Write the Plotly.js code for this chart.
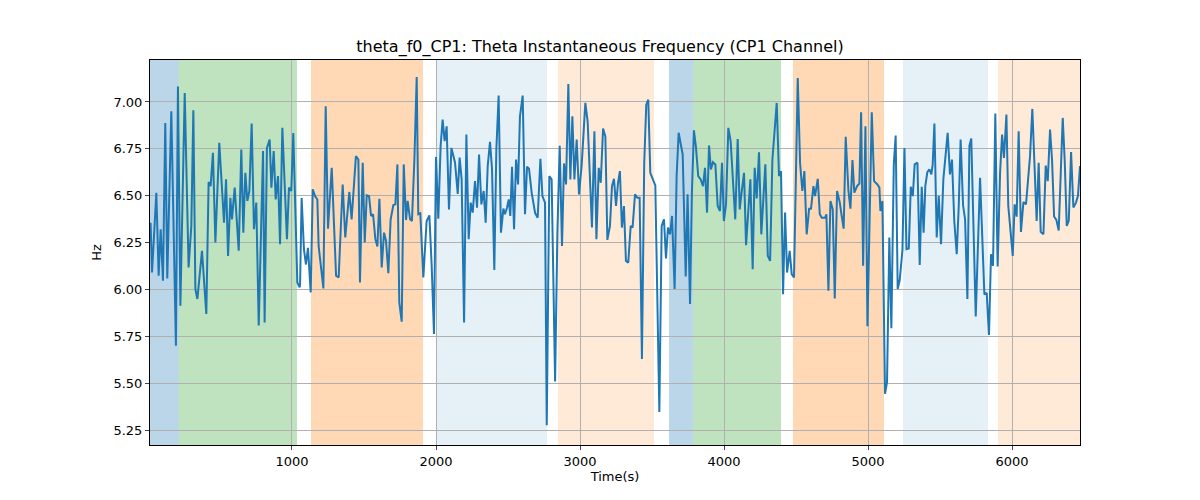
<!DOCTYPE html>
<html><head><meta charset="utf-8">
<script src="https://cdn.plot.ly/plotly-3.0.1.min.js"></script>
<style>body{margin:0}#c{width:1200px;height:500px}</style>
</head><body><div id="c"></div>
<script>
const timeS = [18,28,58,74,88,104,120,134,162,181,194,208,225,255,282,301,315,329,343,375,405,421,435,451,468,495,528,542,556,572,583,602,630,648,662,676,690,704,720,736,752,769,799,810,826,845,857,873,887,903,917,933,965,979,995,1009,1037,1053,
1056,1067,1083,1097,1111,1130,1144,1160,1176,1185,1218,1234,1250,1276,1306,1324,1352,1370,1398,1414,1444,1461,1472,1491,1505,1519,1535,1549,1563,1579,1593,1607,1623,1639,1653,1669,1685,1704,1718,1732,1745,1762,1776,1792,1803,1820,1833,1850,1866,1877,1891,1912,1935,1954,1970,1986,2000,2016,2032,2046,2060,2074,2090,2107,2125,
2132,2151,2164,2178,2195,2211,2227,2241,2255,2271,2285,2299,2315,2331,2345,2359,2375,2389,2405,2419,2435,2451,2468,2479,2493,2505,2516,2528,2542,2556,2570,2583,2602,2618,2632,2646,2664,2688,2706,2725,2739,2757,2769,2787,2803,2827,2843,2859,2875,2889,2903,2919,2933,2947,2961,2977,2993,3012,3037,3053,3083,3100,3114,3130,3144,3160,3176,3190,
3208,3222,3236,3250,3264,3277,3291,3305,3319,3335,3352,3365,3382,3398,3414,3430,3446,3460,3474,3488,3523,3551,3567,3583,3597,3611,3625,3639,3657,3671,3685,3713,3734,3747,3764,3777,3791,3805,3821,3838,3854,3868,3882,3896,3909,3923,3940,3956,3972,3986,3999,4014,4030,4046,4078,4095,4109,4122,4139,4153,4166,4183,4199,4213,4227,4243,4259,4287,
4304,4320,4336,4366,4382,4396,4410,4424,4438,4456,4470,4486,4512,4528,4544,4558,4574,4591,4604,4621,4632,4651,4665,4679,4702,4711,4725,4739,4755,4769,4785,4804,4817,4831,4845,4864,4878,4892,4905,4924,4940,4952,4966,4982,4996,5026,5042,5065,5079,5086,5100,5118,5132,5148,5162,5179,5192,5206,5220,5239,5253,5267,5283,5297,5311,5324,5343,5359,
5373,5386,5398,5412,5426,5440,5449,5461,5477,5491,5507,5523,5553,5569,5583,5599,5616,5630,5643,5660,5674,5690,5704,5717,5748,5778,5808,5824,5840,5854,5868,5884,5900,5917,5931,5944,5961,5974,6005,6018,6032,6046,6062,6079,6097,6125,6141,6171,6185,6199,6218,6234,6248,6264,6278,6292,6308,6324,6352,6366,6380,6394,6410,6426,6444,6458,6472];
const freqHz = [6.356,6.090,6.516,6.073,6.321,6.046,6.888,6.059,6.950,6.232,5.700,7.083,5.913,7.048,6.117,6.339,6.956,6.002,5.949,6.206,5.869,6.573,6.551,6.729,6.250,6.782,6.356,6.587,6.179,6.489,6.374,6.543,6.206,6.746,6.303,6.622,6.472,6.525,6.885,6.321,6.463,5.807,6.738,5.824,6.755,6.800,6.543,6.738,6.480,6.605,6.241,6.862,6.268,6.543,6.525,6.835,6.037,6.011,
6.025,6.488,6.213,6.133,6.222,5.984,6.534,6.498,6.480,6.232,6.005,6.977,6.324,6.649,6.073,6.064,6.560,6.277,6.520,6.374,6.711,6.693,6.037,6.676,6.250,6.502,6.498,6.392,6.401,6.268,6.229,6.484,6.117,6.303,6.259,6.087,6.374,6.450,6.454,6.667,5.931,5.828,6.667,6.370,6.472,6.374,6.365,6.693,7.133,6.401,6.406,6.064,6.365,6.395,6.126,5.762,6.707,6.377,6.764,6.906,6.791,6.870,6.427,6.755,6.702,
6.677,6.509,6.704,6.589,5.824,6.826,6.268,6.463,6.410,6.578,6.436,6.720,6.454,6.525,6.356,6.658,6.787,6.642,6.104,6.746,7.034,6.303,6.431,6.401,6.436,6.480,6.392,6.654,6.321,6.693,6.560,6.924,7.034,6.401,6.654,6.644,6.518,6.408,6.382,6.697,6.498,6.463,5.275,6.604,6.587,5.509,6.303,6.767,6.232,6.672,6.560,7.096,6.587,6.924,6.587,6.800,6.507,6.667,6.995,6.897,6.330,6.844,6.268,6.649,6.569,6.858,6.817,6.264,
6.339,6.551,6.590,6.445,6.569,6.631,6.330,6.445,6.152,6.143,6.339,6.330,6.507,6.489,6.489,5.629,6.675,6.986,7.012,6.622,6.555,5.346,6.339,6.374,6.165,6.330,6.294,6.392,6.002,6.606,6.836,6.720,6.069,6.507,5.922,6.516,6.849,6.760,6.604,6.587,6.551,6.649,6.410,6.768,6.640,6.679,6.667,6.445,6.418,6.676,6.365,6.454,6.862,6.791,6.374,6.803,6.427,6.516,6.622,6.236,6.374,6.587,6.108,6.649,6.485,6.732,6.294,6.667,
6.179,6.152,6.693,6.995,6.605,6.631,5.975,6.410,6.090,6.206,6.082,6.064,7.128,6.676,6.525,6.631,6.294,6.431,6.431,6.551,6.498,6.590,6.401,6.383,6.383,6.401,5.993,6.472,6.427,5.952,6.525,6.463,6.392,6.324,6.814,6.525,6.431,6.690,6.516,6.551,6.565,6.945,6.126,6.870,5.803,6.945,6.578,6.560,6.543,6.418,6.472,5.443,5.505,6.277,5.793,6.667,6.821,6.002,6.050,6.210,6.755,6.215,6.218,6.548,6.498,6.667,6.676,6.130,
6.548,6.303,6.552,6.626,6.640,6.614,6.667,6.885,6.277,6.499,6.241,6.587,6.835,6.614,6.693,6.365,6.188,6.445,6.800,6.449,6.374,5.949,6.766,6.805,5.856,6.596,5.973,5.982,5.757,6.188,6.126,6.938,6.122,6.622,6.826,6.702,6.933,6.445,6.179,6.454,6.388,6.844,6.307,6.466,6.454,6.711,6.963,6.365,6.676,6.307,6.294,6.661,6.578,6.853,6.690,6.389,6.371,6.314,6.915,6.684,6.339,6.366,6.733,6.437,6.463,6.499,6.658];

const spanStart = [10,215,1132,2000,2847,3618,3785,4479,5243,5903];
const spanEnd   = [215,1035,1910,2771,3514,3785,4396,5111,5833,6480];
const spanColor = ['rgba(31,119,180,0.3)','rgba(44,160,44,0.3)','rgba(255,127,14,0.3)','rgba(31,119,180,0.11)','rgba(255,127,14,0.16)',
                   'rgba(31,119,180,0.3)','rgba(44,160,44,0.3)','rgba(255,127,14,0.3)','rgba(31,119,180,0.11)','rgba(255,127,14,0.16)'];
const yTicks = [5.25,5.5,5.75,6.0,6.25,6.5,6.75,7.0];
const xTicks = [1000,2000,3000,4000,5000,6000];

const shapes = spanStart.map((s,i)=>({type:'rect',xref:'x',yref:'paper',x0:s,x1:spanEnd[i],y0:0,y1:1,
  fillcolor:spanColor[i],line:{width:0},layer:'below'}));

Plotly.newPlot('c',[{x:timeS,y:freqHz,type:'scatter',mode:'lines',line:{color:'#1f77b4',width:2}}],{
  width:1200,height:500,
  margin:{l:150,r:120,t:60,b:55},
  paper_bgcolor:'white',plot_bgcolor:'white',
  font:{family:'DejaVu Sans',size:13,color:'black'},
  title:{text:'theta_f0_CP1: Theta Instantaneous Frequency (CP1 Channel)',font:{size:16},x:0.5,xanchor:'center',yref:'container',y:0.908,yanchor:'middle'},
  showlegend:false,
  shapes:shapes,
  xaxis:{range:[14,6472],tickvals:xTicks,showgrid:true,gridcolor:'#b0b0b0',gridwidth:1,zeroline:false,
    showline:true,linecolor:'black',mirror:true,ticks:'outside',ticklen:4,
    title:{text:'Time(s)',font:{size:13},standoff:4}},
  yaxis:{range:[5.17,7.224],tickvals:yTicks,tickformat:'.2f',showgrid:true,gridcolor:'#b0b0b0',gridwidth:1,zeroline:false,
    showline:true,linecolor:'black',mirror:true,ticks:'outside',ticklen:4,
    title:{text:'Hz',font:{size:13},standoff:8}}
},{displayModeBar:false});
</script></body></html>
